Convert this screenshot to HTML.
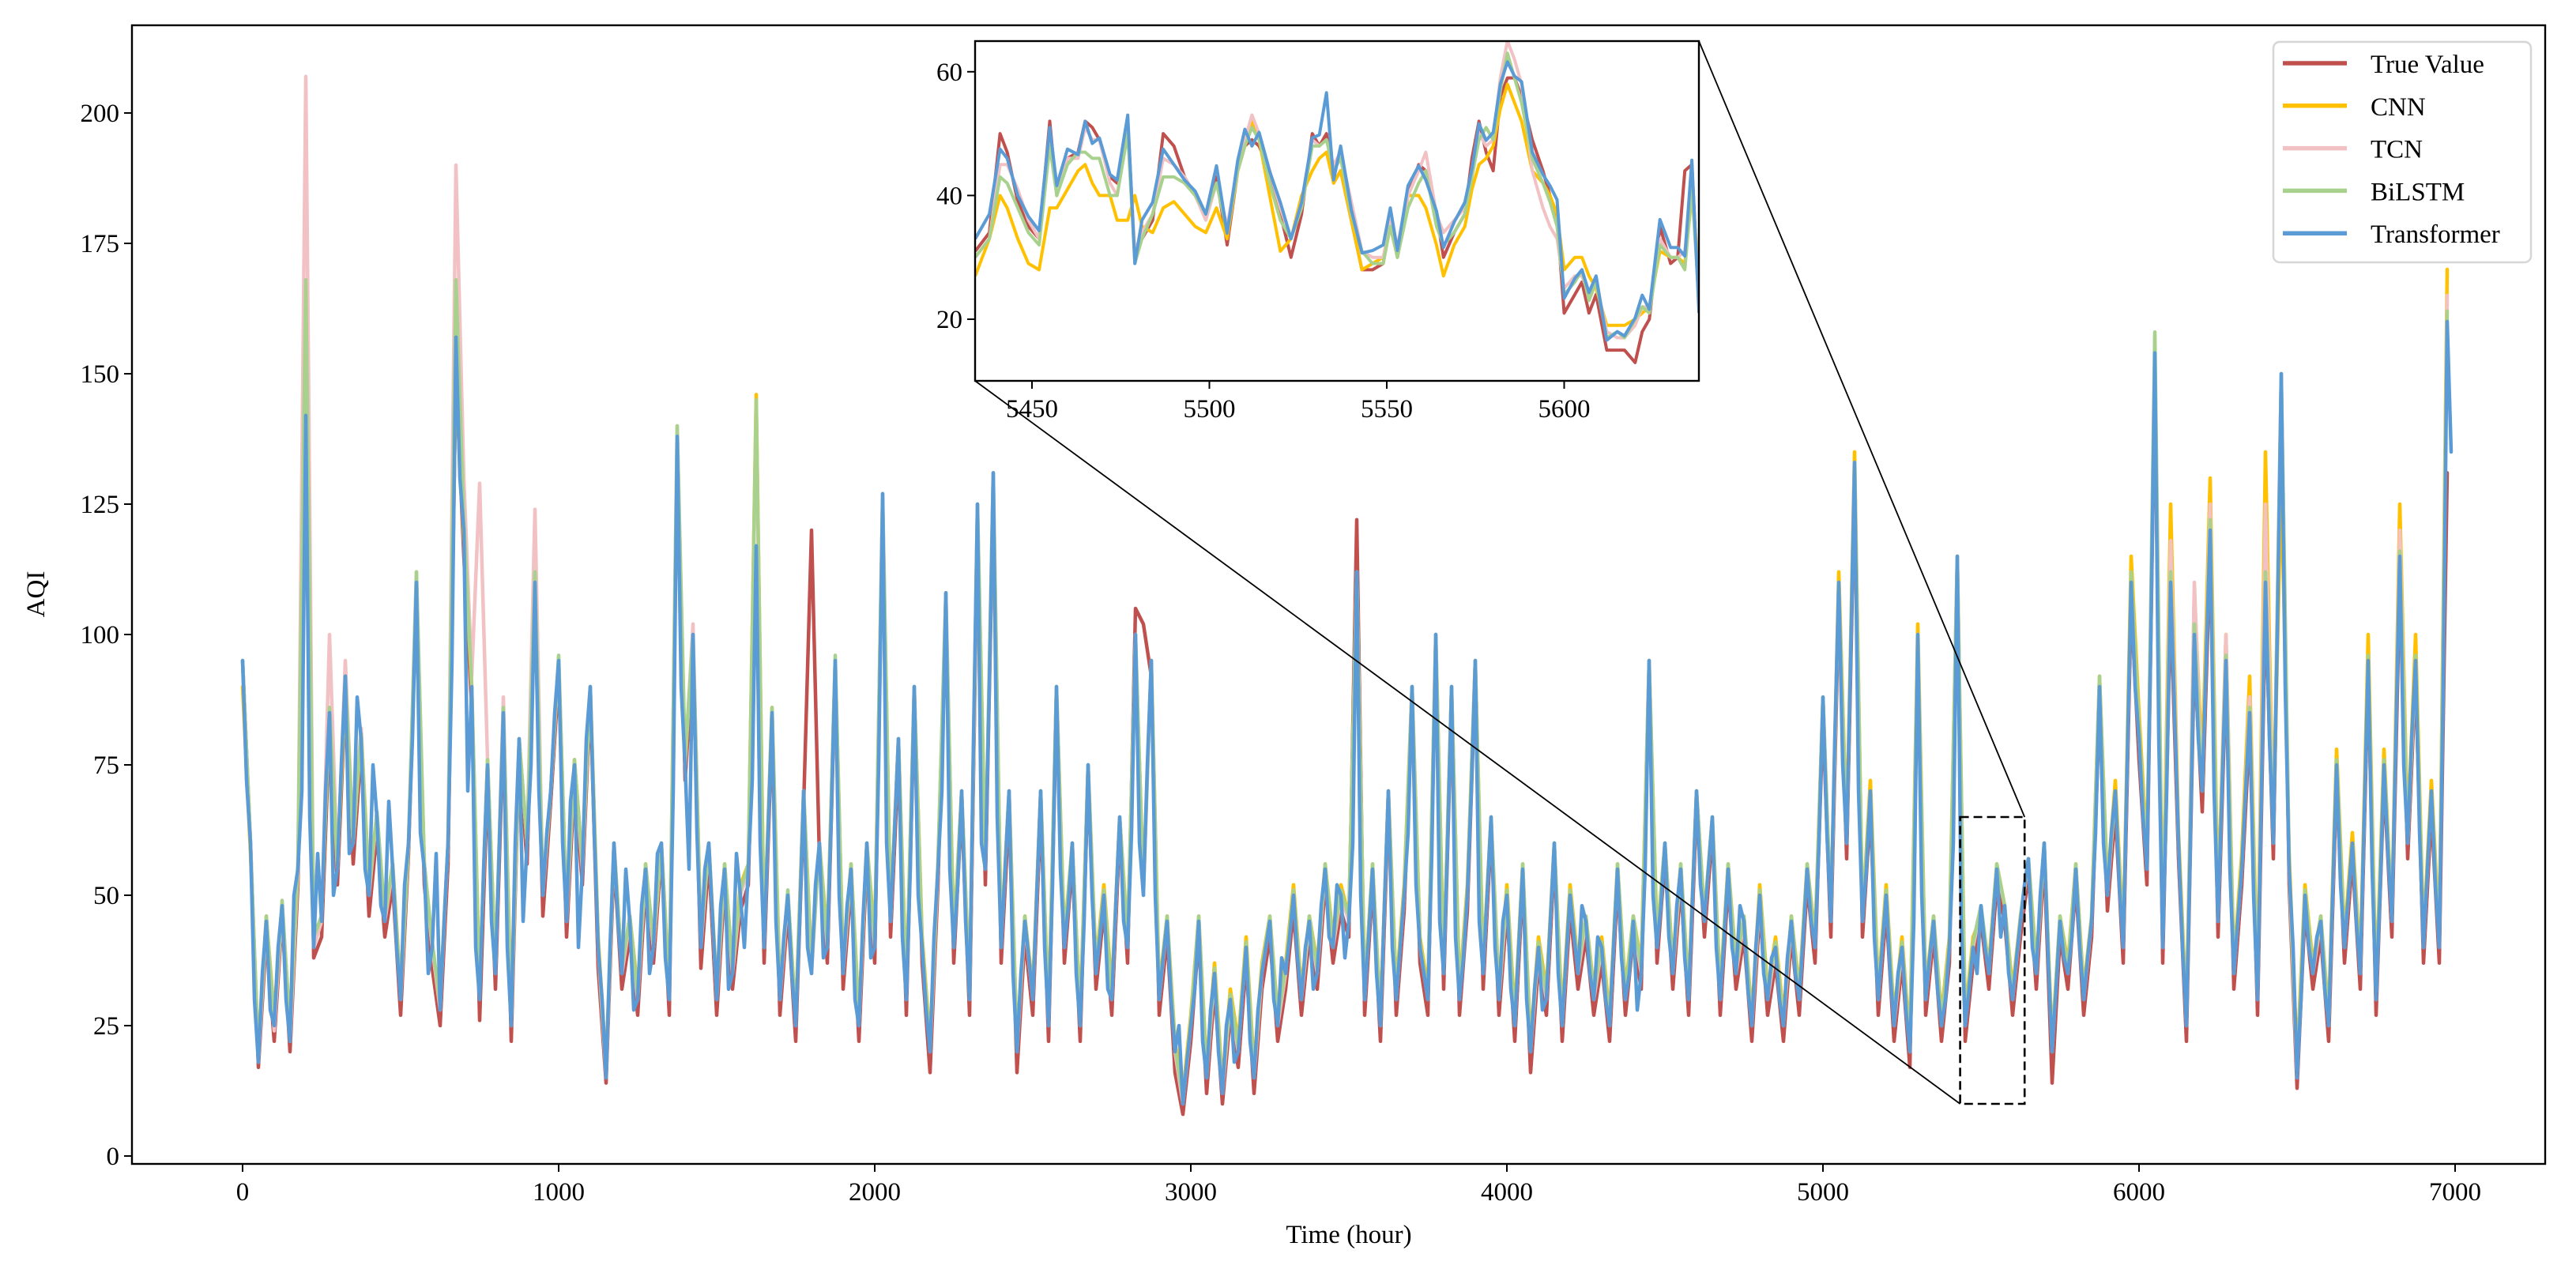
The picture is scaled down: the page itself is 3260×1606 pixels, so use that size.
<!DOCTYPE html>
<html><head><meta charset="utf-8">
<style>
html,body{margin:0;padding:0;background:#fff;}
svg{display:block;font-family:"Liberation Serif","DejaVu Serif",serif;}
</style></head>
<body>
<svg id="chart" width="3260" height="1606" viewBox="0 0 3260 1606" xmlns="http://www.w3.org/2000/svg">
  <rect x="0" y="0" width="3260" height="1606" fill="#fff"/>
  <g id="main-plot"></g>
  <g id="main-axes"></g>
  <text x="0" y="0" font-size="33" text-anchor="middle" transform="translate(56,752) rotate(-90)">AQI</text>
  <text x="1707" y="1573" font-size="33" text-anchor="middle">Time (hour)</text>
  <g id="zoom-marks"></g>
  <g id="inset"></g>
  <g id="legend"></g>
</svg>
<script>
// ---------- data ----------
const mainStep = 25;          // hours between samples of the four model/true arrays
const transformerStep = 12.5; // hours between transformer samples
const seriesNames = ["True Value","CNN","TCN","BiLSTM","Transformer"];
const seriesColors = ["#C0504D","#FFC000","#F2C1C4","#A9D18E","#5B9BD5"];

const transformerMain = [
95,72,60,30,18,35,45,28,25,40,48,30,22,50,55,70,142,65,40,58,45,70,85,50,55,75,92,58,60,88,80,55,50,75,65,48,45,68,55,40,
30,52,60,80,110,62,55,35,40,58,28,45,60,95,157,130,120,70,90,40,30,55,75,45,35,60,85,40,25,60,80,45,60,75,110,70,50,62,70,85,
95,60,45,68,75,40,55,80,90,62,40,30,15,40,60,45,35,55,45,28,30,48,55,35,40,58,60,38,30,70,138,90,75,55,100,62,40,55,60,45,
30,48,55,32,35,58,50,40,55,72,117,60,40,62,85,45,30,42,50,35,25,45,70,40,35,52,60,38,40,65,95,50,35,48,55,30,25,45,60,38,
40,75,127,60,45,62,80,42,30,55,90,50,40,28,20,42,55,70,108,55,40,52,70,45,30,80,125,60,55,90,131,65,40,55,70,35,20,35,45,38,
30,50,70,40,25,52,90,55,40,48,60,35,25,45,75,50,35,42,50,32,30,48,65,45,40,62,100,60,50,75,95,50,30,38,45,30,20,25,10,18,
25,32,45,22,15,28,35,20,12,25,30,18,20,30,40,22,15,28,35,40,45,30,25,38,35,42,50,38,30,40,45,32,35,48,55,42,40,52,50,38,
45,60,112,50,30,42,55,35,25,48,70,40,30,40,50,62,90,52,40,35,30,58,100,45,35,60,90,42,30,38,50,70,95,45,35,50,65,40,30,45,
50,32,25,40,55,30,20,32,40,28,30,45,60,35,25,38,50,42,35,48,45,35,30,42,40,30,25,40,55,38,30,35,45,28,35,55,95,50,40,48,
60,42,35,48,55,38,30,50,70,52,45,55,65,40,30,42,55,40,35,48,45,32,25,40,50,35,30,38,40,30,25,38,45,35,30,42,55,45,40,60,
88,62,45,80,110,75,60,95,133,70,45,55,70,42,30,40,50,35,25,35,40,28,20,45,100,50,30,38,45,32,25,30,40,60,115,45,25,32,40,35,
48,40,35,45,55,42,48,35,30,38,45,52,57,40,35,50,60,38,20,32,45,38,35,42,55,40,30,38,45,62,90,60,50,62,70,52,40,75,110,90,
80,65,55,100,154,80,40,70,110,85,60,40,25,60,100,80,70,95,120,70,45,70,95,55,35,45,55,70,85,50,30,70,110,80,60,100,150,90,55,40,
15,30,50,40,35,42,45,32,25,50,75,52,40,50,60,45,35,65,95,55,30,50,75,58,45,80,115,75,60,80,95,62,40,55,70,52,40,90,160,135];

const trueMain = [95,60,17,42,22,46,20,52,135,38,42,82,52,88,56,78,46,62,42,52,
27,58,108,52,36,25,56,150,115,86,26,72,32,82,22,78,56,106,46,68,
92,42,72,52,88,36,14,57,32,42,27,52,37,58,27,134,72,96,36,57,
27,52,32,47,52,112,37,82,27,47,22,67,120,57,37,92,32,52,22,57,
37,122,42,76,27,86,37,16,52,104,37,67,27,120,52,126,37,66,16,42,
27,66,22,86,37,56,22,72,32,47,27,62,37,105,102,92,27,42,16,8,
22,42,12,32,10,27,17,37,12,32,42,22,32,47,27,42,32,52,37,47,
42,122,27,52,22,67,27,47,86,37,27,96,32,86,27,47,92,32,62,27,
47,22,52,16,37,27,57,22,47,32,42,27,37,22,52,27,42,32,92,37,
57,32,52,27,67,42,62,27,52,32,42,22,47,27,37,22,42,27,52,37,
84,42,106,57,128,42,66,27,47,22,37,17,96,27,42,22,37,112,22,37,
45,32,52,45,27,42,54,32,57,14,42,32,52,27,42,86,47,66,37,106,
76,52,148,37,106,57,22,96,66,116,42,92,32,52,82,27,106,57,145,52,
13,47,32,42,22,72,37,57,32,92,27,72,42,110,57,92,37,66,37,131];

const cnnMain = [90,58,20,46,27,48,25,55,135,42,46,86,55,90,60,82,52,65,46,56,
32,60,108,56,40,30,60,150,118,90,32,76,36,86,28,80,60,108,52,70,
95,46,76,56,90,42,17,60,36,46,32,56,40,60,32,135,75,100,42,60,
32,56,36,52,56,146,42,86,32,50,27,70,37,60,42,95,37,56,27,60,
42,125,46,80,32,90,42,22,56,106,42,70,32,122,56,128,42,70,22,46,
32,70,27,90,42,60,27,75,37,52,32,65,42,98,52,95,32,46,22,12,
27,46,17,37,14,32,22,42,17,37,46,27,37,52,32,46,37,56,42,52,
46,110,32,56,27,70,32,52,90,42,32,100,37,90,32,52,95,37,65,32,
52,27,56,22,42,32,60,27,52,37,46,32,42,27,56,32,46,37,95,42,
60,37,56,32,70,46,65,32,56,37,46,27,52,32,42,27,46,32,56,42,
88,46,112,62,135,46,72,32,52,27,42,22,102,32,46,27,42,115,27,42,
46,37,56,48,32,46,57,37,60,22,46,37,56,32,46,92,52,72,42,115,
85,58,150,42,125,62,27,108,75,130,48,100,37,58,92,32,135,62,130,58,
18,52,37,46,27,78,42,62,37,100,32,78,46,125,62,100,42,72,42,170];

const tcnMain = [95,60,18,45,24,48,22,55,207,40,45,100,55,95,60,82,50,66,45,55,
30,60,112,55,40,28,60,190,130,92,129,76,35,88,25,80,60,124,50,70,
95,45,75,55,90,40,15,60,35,45,30,55,40,60,30,140,75,102,40,60,
30,55,35,50,55,143,40,85,30,50,25,70,35,60,40,95,35,55,25,60,
40,126,45,80,30,90,40,20,55,108,40,70,30,125,55,131,40,70,20,45,
30,70,25,90,40,60,25,75,35,50,30,65,40,100,50,95,30,45,20,10,
25,45,15,35,12,30,20,40,15,35,45,25,35,50,30,45,35,55,40,50,
45,112,30,55,25,70,30,50,90,40,30,100,35,90,30,50,95,35,65,30,
50,25,55,20,40,30,60,25,50,35,45,30,40,25,55,30,45,35,95,40,
60,35,55,30,70,45,65,30,55,35,45,25,50,30,40,25,45,30,55,40,
88,45,110,60,133,45,70,30,50,25,40,20,100,30,45,25,40,115,25,40,
48,35,55,48,30,45,57,35,60,20,45,35,55,30,45,90,50,70,40,110,
80,55,154,40,118,60,25,110,70,125,45,100,35,55,88,30,125,60,150,55,
15,50,35,45,25,75,40,60,35,95,30,75,45,120,60,95,40,70,40,165];

const bilstmMain = [95,60,19,46,26,49,24,56,168,42,46,86,56,92,60,81,51,66,46,56,
31,60,112,56,41,29,60,168,122,90,32,76,36,86,26,80,60,112,51,70,
96,46,76,56,90,41,16,60,36,46,31,56,41,60,31,140,76,100,41,60,
31,56,36,51,56,145,41,86,31,51,26,70,36,60,41,96,36,56,26,60,
41,127,46,80,31,90,41,21,56,108,41,70,31,125,56,131,41,70,21,46,
31,70,26,90,41,60,26,75,36,51,31,65,41,100,51,95,31,46,21,11,
26,46,16,36,13,31,21,41,16,36,46,26,36,51,31,46,36,56,41,51,
46,112,31,56,26,70,31,51,90,41,31,100,36,90,31,51,95,36,65,31,
51,26,56,21,41,31,60,26,51,36,46,31,41,26,56,31,46,36,95,41,
60,36,56,31,70,46,65,31,56,36,46,26,51,31,41,26,46,31,56,41,
88,46,110,60,133,46,70,31,51,26,41,21,100,31,46,26,41,115,26,41,
48,36,56,48,31,46,57,36,60,21,46,36,56,31,46,92,51,70,41,112,
82,56,158,41,112,60,26,102,70,122,46,96,36,56,86,31,112,60,150,56,
16,51,36,46,26,76,41,60,36,96,31,76,46,116,60,96,41,70,41,162];

// inset data (hours and values)
const insetHours = [5434,5438,5441,5443,5446,5449,5452,5455,5457,5460,5463,5465,5467,5469,5472,5474,5477,5479,5481,5484,5487,5490,5493,5496,5499,5502,5505,5508,5510,5512,5514,5517,5520,5523,5526,5529,5531,5533,5535,5537,5540,5543,5546,5549,5551,5553,5556,5559,5561,5564,5566,5569,5572,5574,5576,5578,5580,5582,5584,5586,5588,5591,5594,5596,5598,5600,5603,5605,5607,5609,5612,5615,5617,5620,5622,5624,5627,5630,5632,5634,5636,5638];
const insetTrue = [31,34,50,47,39,35,33,52,40,46,47,52,51,49,43,42,52,30,33,36,50,48,43,40,37,43,32,44,48,49,48,44,37,30,37,50,48,50,42,44,36,28,28,29,36,30,40,45,44,37,30,34,37,46,52,47,44,56,59,59,56,49,44,40,36,21,24,26,21,24,15,15,15,13,18,20,35,29,30,44,45,22];
const insetCnn = [27,33,40,38,33,29,28,38,38,41,44,45,42,40,40,36,36,40,35,34,38,39,37,35,34,38,33,44,48,52,49,40,31,33,40,44,46,47,42,44,36,28,29,30,35,30,40,40,38,32,27,32,35,41,45,46,48,54,58,55,52,44,42,40,37,28,30,30,27,25,19,19,19,20,21,22,31,30,30,29,40,28];
const insetTcn = [30,33,45,45,41,36,33,49,41,46,46,51,49,49,42,40,51,31,34,37,46,45,43,40,36,42,35,45,49,53,50,44,38,33,39,49,48,49,45,47,39,31,30,30,36,32,40,44,47,37,34,36,38,43,50,48,49,59,65,62,58,44,38,35,33,25,27,27,24,26,18,17,17,19,22,22,33,30,30,31,42,24];
const insetBilstm = [30,33,43,42,38,34,32,48,40,45,47,47,46,46,40,40,50,29,33,37,43,43,42,40,37,42,34,44,48,51,49,42,36,33,38,48,48,49,44,46,37,31,29,29,35,30,38,42,44,35,32,34,37,43,49,51,49,57,63,59,55,46,42,39,35,24,26,28,23,26,17,18,17,20,22,21,32,30,30,28,41,23];
const insetTransformer = [33,37,47.5,46,40,36.6,34.3,51,41.6,47.5,46.6,52,48.4,49.3,43.4,42.5,53,29,36,38.9,47.5,45,42.5,40.7,37,44.8,33.9,45.7,50.7,48,50.2,43.9,38.9,33,38.9,49.3,49.8,56.6,42.5,48,37.7,30.7,31.1,32,38,31.1,41.6,44.8,42.5,37.5,31.6,35.7,38.9,44.3,51.6,48.9,50.2,58,61.6,59.3,58.4,47,43.4,41.6,39.3,23.4,26.6,28,24.3,27,16.6,18,17.3,20.2,23.9,21.6,36.1,31.6,31.6,30.2,45.7,21];

const xTicks = [0,1000,2000,3000,4000,5000,6000,7000];
const yTicks = [0,25,50,75,100,125,150,175,200];
const insetXTicks = [5450,5500,5550,5600];
const insetYTicks = [20,40,60];

// ---------- scales ----------
const NS = "http://www.w3.org/2000/svg";
function mk(tag, attrs, parent){const e=document.createElementNS(NS,tag);for(const k in attrs)e.setAttribute(k,attrs[k]);parent.appendChild(e);return e;}
const M = {l:167,r:3221,t:32,b:1473};
const xMain = t => 307 + t*0.4;
const yMain = v => 1463 - v*6.6;
const I = {l:1234,r:2150,t:52,b:482};
const xIn = t => 1306 + (t-5450)*4.49;
const yIn = v => 404 - (v-20)*7.83;

// ---------- main series ----------
const mainPlot = document.getElementById("main-plot");
const mainData = [trueMain, cnnMain, tcnMain, bilstmMain, transformerMain];
const mainSteps = [mainStep, mainStep, mainStep, mainStep, transformerStep];
const mainSlugs = ["true-value-line","cnn-line","tcn-line","bilstm-line","transformer-line"];
mainData.forEach((arr, si) => {
  const st = mainSteps[si];
  const pts = arr.map((v,i) => xMain(i*st).toFixed(1)+","+yMain(v).toFixed(1)).join(" ");
  const pl = mk("polyline",{points:pts,fill:"none",stroke:seriesColors[si],"stroke-width":4.5,"stroke-linejoin":"round","stroke-linecap":"round"},mainPlot);
  
  
});

// ---------- main axes ----------
const ax = document.getElementById("main-axes");
const frame = mk("rect",{x:M.l,y:M.t,width:M.r-M.l,height:M.b-M.t,fill:"none",stroke:"#000","stroke-width":2.4},ax);


xTicks.forEach(t => {
  const x = xMain(t);
  const tk = mk("line",{x1:x,x2:x,y1:M.b,y2:M.b+10,stroke:"#000","stroke-width":2},ax);
  
  
  const lb = mk("text",{x:x,y:M.b+46,"font-size":33,"text-anchor":"middle"},ax);
  lb.textContent = t;
  
  
});
yTicks.forEach(v => {
  const y = yMain(v);
  const tk = mk("line",{x1:M.l-10,x2:M.l,y1:y,y2:y,stroke:"#000","stroke-width":2},ax);
  
  
  const lb = mk("text",{x:M.l-16,y:y+11,"font-size":33,"text-anchor":"end"},ax);
  lb.textContent = v;
  
  
});

// ---------- zoom indicator ----------
const zm = document.getElementById("zoom-marks");
const rx1 = xMain(5434), rx2 = xMain(5638), ry1 = yMain(65), ry2 = yMain(10);
const zr = mk("rect",{x:rx1,y:ry1,width:rx2-rx1,height:ry2-ry1,fill:"none",stroke:"#000","stroke-width":2.6,"stroke-dasharray":"11,6"},zm);


const c1 = mk("line",{x1:I.r,y1:I.t,x2:rx2,y2:ry1,stroke:"#000","stroke-width":1.8},zm);


const c2 = mk("line",{x1:I.l,y1:I.b,x2:rx1,y2:ry2,stroke:"#000","stroke-width":1.8},zm);



// ---------- inset ----------
const ins = document.getElementById("inset");
const ibg = mk("rect",{x:I.l,y:I.t,width:I.r-I.l,height:I.b-I.t,fill:"#fff"},ins);


mk("clipPath",{id:"inclip"},ins);
mk("rect",{x:I.l,y:I.t,width:I.r-I.l,height:I.b-I.t},document.getElementById("inclip"));
const insetG = mk("g",{"clip-path":"url(#inclip)"},ins);


const insetData = [insetTrue, insetCnn, insetTcn, insetBilstm, insetTransformer];
insetData.forEach((arr, si) => {
  const pts = arr.map((v,i) => xIn(insetHours[i]).toFixed(1)+","+yIn(v).toFixed(1)).join(" ");
  const pl = mk("polyline",{points:pts,fill:"none",stroke:seriesColors[si],"stroke-width":4,"stroke-linejoin":"round"},insetG);
  
  
});
const iframe = mk("rect",{x:I.l,y:I.t,width:I.r-I.l,height:I.b-I.t,fill:"none",stroke:"#000","stroke-width":2.4},ins);


insetXTicks.forEach(t => {
  const x = xIn(t);
  const tk = mk("line",{x1:x,x2:x,y1:I.b,y2:I.b+10,stroke:"#000","stroke-width":2},ins);
  
  
  const lb = mk("text",{x:x,y:I.b+46,"font-size":33,"text-anchor":"middle"},ins);
  lb.textContent = t;
  
  
});
insetYTicks.forEach(v => {
  const y = yIn(v);
  const tk = mk("line",{x1:I.l-10,x2:I.l,y1:y,y2:y,stroke:"#000","stroke-width":2},ins);
  
  
  const lb = mk("text",{x:I.l-16,y:y+11,"font-size":33,"text-anchor":"end"},ins);
  lb.textContent = v;
  
  
});

// ---------- legend ----------
const lg = document.getElementById("legend");
const lbox = mk("rect",{x:2877,y:53,width:326,height:279,rx:8,ry:8,fill:"#fff","fill-opacity":0.85,stroke:"#d6d6d6","stroke-width":2.5},lg);


seriesNames.forEach((n, i) => {
  const y = 80 + i*53.8;
  const g = mk("g",{},lg);
  
  
  const ln = mk("line",{x1:2889,x2:2970,y1:y,y2:y,stroke:seriesColors[i],"stroke-width":5.5},g);
  
  
  const tx = mk("text",{x:3000,y:y+12,"font-size":33},g);
  tx.textContent = n;
  
  
});
</script>
</body></html>
